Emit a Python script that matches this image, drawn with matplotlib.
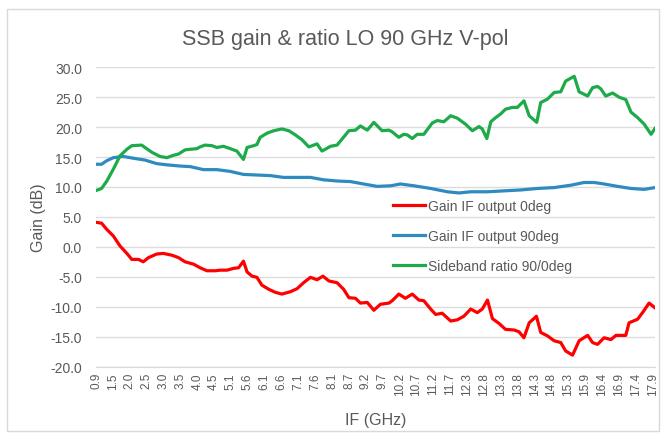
import matplotlib
matplotlib.use("Agg")
import matplotlib.pyplot as plt
import numpy as np
from matplotlib.patches import Rectangle

plt.rcParams['font.family'] = ['Liberation Sans', 'DejaVu Sans']

title = "SSB gain & ratio LO 90 GHz V-pol"
x_label = "IF (GHz)"
y_label = "Gain (dB)"

tick_labels = ["0.9", "1.5", "2.0", "2.5", "3.0", "3.5", "4.0", "4.5", "5.1", "5.6",
               "6.1", "6.6", "7.1", "7.6", "8.1", "8.7", "9.2", "9.7", "10.2", "10.7",
               "11.2", "11.7", "12.3", "12.8", "13.3", "13.8", "14.3", "14.8", "15.3",
               "15.9", "16.4", "16.9", "17.4", "17.9"]

# Gain IF output 0deg (red)
red_f = [0.95, 1.12, 1.28, 1.48, 1.68, 1.89, 2.04, 2.24, 2.39, 2.55, 2.80, 3.00, 3.26, 3.46,
         3.66, 3.92, 4.12, 4.33, 4.58, 4.73, 4.94, 5.14, 5.29, 5.44, 5.55, 5.70, 5.85, 6.00,
         6.21, 6.41, 6.61, 6.87, 7.07, 7.27, 7.48, 7.68, 7.86, 8.04, 8.29, 8.49, 8.65, 8.85,
         9.00, 9.21, 9.41, 9.61, 9.87, 9.97, 10.17, 10.37, 10.58, 10.78, 10.93, 11.14, 11.29,
         11.49, 11.75, 11.95, 12.15, 12.36, 12.56, 12.71, 12.87, 13.02, 13.22, 13.42, 13.68,
         13.83, 13.98, 14.14, 14.36, 14.49, 14.70, 14.90, 15.10, 15.25, 15.46, 15.66, 15.92,
         16.07, 16.22, 16.42, 16.63, 16.78, 17.08, 17.18, 17.44, 17.59, 17.79, 17.97]
red_v = [4.1, 3.95, 2.9, 1.8, 0.15, -1.1, -2.1, -2.1, -2.5, -1.8, -1.2, -1.1, -1.4, -1.8,
         -2.5, -2.9, -3.5, -4.0, -4.0, -3.9, -3.9, -3.6, -3.5, -2.4, -4.2, -4.9, -5.1, -6.4,
         -7.1, -7.6, -7.9, -7.5, -7.0, -6.0, -5.1, -5.5, -4.9, -5.7, -6.0, -7.1, -8.5, -8.6,
         -9.4, -9.3, -10.6, -9.6, -9.4, -9.0, -7.9, -8.6, -7.9, -8.9, -9.0, -10.4, -11.3,
         -11.1, -12.4, -12.2, -11.6, -10.4, -11.0, -10.4, -8.9, -12.0, -12.8, -13.8, -13.9,
         -14.2, -15.2, -12.7, -11.6, -14.3, -14.9, -15.7, -16.0, -17.4, -18.1, -15.7, -14.8,
         -16.0, -16.3, -15.2, -15.5, -14.8, -14.8, -12.7, -12.1, -11.0, -9.4, -10.2]

# Gain IF output 90deg (blue)
blue_f = [0.95, 1.12, 1.28, 1.48, 1.78, 2.09, 2.44, 2.80, 3.11, 3.51, 3.82, 4.22, 4.63, 5.04,
          5.44, 5.85, 6.26, 6.66, 7.07, 7.48, 7.88, 8.29, 8.70, 9.10, 9.51, 9.92, 10.22, 10.63,
          11.14, 11.65, 12.00, 12.36, 12.87, 13.37, 13.88, 14.39, 14.90, 15.41, 15.81, 16.12,
          16.42, 16.83, 17.24, 17.64, 17.97]
blue_v = [13.8, 13.8, 14.4, 14.9, 15.1, 14.8, 14.5, 13.9, 13.7, 13.5, 13.4, 12.9, 12.9, 12.6,
          12.1, 12.0, 11.9, 11.6, 11.6, 11.6, 11.2, 11.0, 10.9, 10.5, 10.1, 10.2, 10.5, 10.2,
          9.75, 9.2, 9.0, 9.2, 9.2, 9.35, 9.5, 9.75, 9.9, 10.3, 10.75, 10.75,
          10.5, 10.1, 9.75, 9.6, 9.9]

# Sideband ratio 90/0deg (green)
green_f = [0.95, 1.12, 1.28, 1.48, 1.68, 1.89, 2.04, 2.34, 2.44, 2.65, 2.90, 3.11, 3.31, 3.46,
           3.66, 3.82, 4.02, 4.12, 4.27, 4.48, 4.63, 4.83, 5.04, 5.24, 5.44, 5.55, 5.75, 5.85,
           5.95, 6.16, 6.36, 6.61, 6.82, 7.02, 7.22, 7.43, 7.58, 7.68, 7.83, 7.93, 8.09, 8.29,
           8.44, 8.65, 8.85, 9.00, 9.21, 9.41, 9.66, 9.87, 9.97, 10.17, 10.32, 10.43, 10.58,
           10.73, 10.93, 11.19, 11.34, 11.54, 11.75, 11.95, 12.20, 12.41, 12.61, 12.71, 12.85,
           12.97, 13.12, 13.27, 13.42, 13.63, 13.78, 13.98, 14.14, 14.37, 14.49, 14.70, 14.90,
           15.10, 15.25, 15.51, 15.66, 15.92, 16.07, 16.22, 16.32, 16.47, 16.68, 16.88, 17.08,
           17.24, 17.44, 17.64, 17.85, 17.97]
green_v = [9.4, 9.75, 11.0, 13.0, 15.2, 16.3, 16.9, 17.0, 16.6, 15.8, 15.1, 14.9, 15.3, 15.5,
           16.2, 16.3, 16.4, 16.7, 17.0, 16.9, 16.6, 16.8, 16.4, 16.0, 14.6, 16.6, 16.9, 17.1,
           18.3, 19.0, 19.4, 19.7, 19.4, 18.7, 17.9, 16.7, 17.0, 17.2, 16.0, 16.3, 16.8, 17.0,
           18.0, 19.4, 19.5, 20.2, 19.5, 20.8, 19.4, 19.5, 19.2, 18.3, 18.8, 18.7, 18.1,
           18.8, 18.8, 20.7, 21.1, 20.9, 21.9, 21.5, 20.5, 19.4, 20.1, 19.7, 18.1,
           20.9, 21.6, 22.2, 23.0, 23.3, 23.3, 24.4, 21.9, 20.8, 24.1, 24.7, 25.8,
           25.9, 27.7, 28.5, 25.9, 25.2, 26.6, 26.8, 26.4, 25.2, 25.7, 25.0, 24.6,
           22.5, 21.6, 20.5, 18.8, 19.8]

series_names = ["Gain IF output 0deg", "Gain IF output 90deg", "Sideband ratio 90/0deg"]
series_colors = ["#FF0000", "#2E8BC0", "#1DAA4A"]

TXT = "#595959"
W, H = 662, 435
fig = plt.figure(figsize=(W / 100, H / 100), dpi=100)
fig.patches.append(Rectangle((7 / W, 3 / H), 652 / W, 422 / H, transform=fig.transFigure,
                             fill=False, edgecolor="#d9d9d9", linewidth=1.0))

ax = fig.add_axes([96 / W, (H - 367.5) / H, (655 - 96) / W, (367.5 - 68.3) / H])

lw = 2.3
ax.plot(red_f, red_v, color=series_colors[0], lw=lw, label=series_names[0], solid_joinstyle="round")
ax.plot(blue_f, blue_v, color=series_colors[1], lw=lw, label=series_names[1], solid_joinstyle="round")
ax.plot(green_f, green_v, color=series_colors[2], lw=lw, label=series_names[2], solid_joinstyle="round")

ax.set_xlim(0.95, 17.97)
ax.set_ylim(-20, 30)
ax.set_yticks(np.arange(-20, 30.1, 5))
ax.set_yticklabels([f"{v:.1f}" for v in np.arange(-20, 30.1, 5)])
ax.set_xticks(np.linspace(0.95, 17.9, len(tick_labels)))
ax.set_xticklabels(tick_labels, rotation=90)
ax.tick_params(axis="both", length=0, colors=TXT)
ax.tick_params(axis="y", labelsize=10, pad=10)
ax.tick_params(axis="x", labelsize=8.5, pad=4)
ax.grid(axis="y", color="#dcdcdc", lw=1.0)
ax.set_axisbelow(True)
for s in ["top", "right", "left"]:
    ax.spines[s].set_visible(False)
ax.spines["bottom"].set_color("#d9d9d9")

ax.set_xlabel(x_label, fontsize=11.5, color=TXT, labelpad=12)
ax.set_ylabel(y_label, fontsize=11.5, color=TXT, labelpad=3)

fig.text(345 / W, 1 - 40 / H, title, fontsize=15.5, color=TXT, ha="center", va="center")

leg = ax.legend(loc="upper left", bbox_to_anchor=((393 - 96) / (655 - 96), (367.5 - 200) / (367.5 - 68.3)),
                frameon=False, fontsize=10, labelcolor=TXT, handlelength=2.3, handletextpad=0.2,
                labelspacing=1.15, borderaxespad=0, borderpad=0)

fig.savefig("out.png", dpi=100)
